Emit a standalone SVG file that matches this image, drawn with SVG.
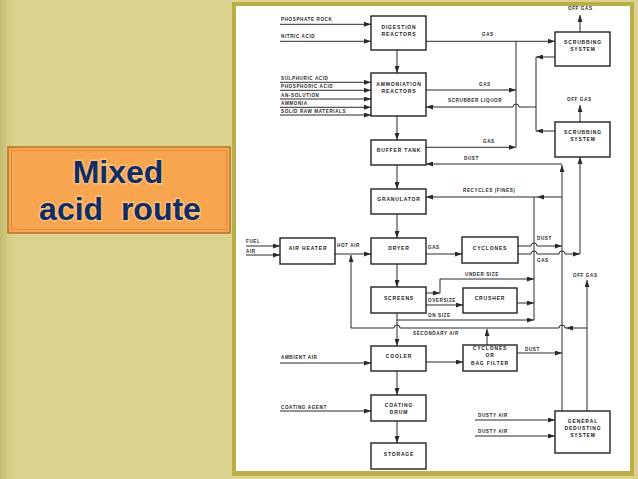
<svg xmlns="http://www.w3.org/2000/svg" width="638" height="479" viewBox="0 0 638 479">
<style>
.bx{fill:#fff;stroke:#222;stroke-width:1.4}
.ln{fill:none;stroke:#2a2a2a;stroke-width:1}
.ar{marker-end:url(#ah)}
.nt{font-family:"Liberation Sans",Arial,sans-serif;font-weight:bold;font-size:5px;letter-spacing:0.85px;fill:#222;text-anchor:middle}
.lb{font-family:"Liberation Sans",Arial,sans-serif;font-weight:bold;font-size:4.6px;letter-spacing:0.6px;fill:#2a2a2a}
.tt{font-family:"Liberation Sans",Arial,sans-serif;font-weight:bold;font-size:32px;fill:#0f2c66;text-anchor:middle;stroke:#ffd79a;stroke-width:3;stroke-opacity:0.55;paint-order:stroke}
</style>
<defs>
<marker id="ah" markerUnits="userSpaceOnUse" markerWidth="7" markerHeight="5" refX="7" refY="2.5" orient="auto">
<path d="M0,0 L7,2.5 L0,5 z" fill="#2a2a2a"/>
</marker>
<linearGradient id="lstrip" x1="0" y1="0" x2="1" y2="0">
<stop offset="0" stop-color="#c4ba6c"/>
<stop offset="1" stop-color="#dcd48f" stop-opacity="0"/>
</linearGradient>
</defs>

<g id="background">
<rect x="0" y="0" width="638" height="479" fill="#dbd38e"/>
<rect x="0" y="0" width="18" height="479" fill="url(#lstrip)"/>
<rect x="232" y="2" width="402" height="474" fill="#b9ae48"/>
<rect x="236" y="6" width="394" height="465" fill="#ffffff"/>
</g>

<g id="title">
<rect x="8" y="147" width="222" height="86" fill="#f8a54f" stroke="#b8772c" stroke-width="1.6"/>
<rect x="11.5" y="150.5" width="215" height="79" fill="none" stroke="#e08d3e" stroke-width="1"/>
<text class="tt" x="118" y="183">Mixed</text>
<text class="tt" x="120" y="220" xml:space="preserve">acid  route</text>
</g>

<g id="connectors">
<!-- left inputs -->
<path class="ln ar" d="M280,24.3 H371"/>
<path class="ln ar" d="M280,41.3 H371"/>
<path class="ln ar" d="M280,82.3 H371"/>
<path class="ln ar" d="M280,90.3 H371"/>
<path class="ln ar" d="M280,99 H371"/>
<path class="ln ar" d="M280,107.3 H371"/>
<path class="ln ar" d="M280,115 H371"/>
<path class="ln ar" d="M246,246 H280"/>
<path class="ln ar" d="M246,255 H280"/>
<path class="ln ar" d="M280,363 H371"/>
<path class="ln ar" d="M280,411 H371"/>
<path class="ln ar" d="M475,420 H555"/>
<path class="ln ar" d="M475,436 H555"/>
<!-- main column -->
<path class="ln ar" d="M397,50 V73"/>
<path class="ln ar" d="M397,116 V140"/>
<path class="ln ar" d="M397,165 V189"/>
<path class="ln ar" d="M397,214 V238"/>
<path class="ln ar" d="M397,264 V287"/>
<path class="ln ar" d="M397,313 V346"/>
<path class="ln ar" d="M397,371 V395"/>
<path class="ln ar" d="M397,421 V443"/>
<!-- gas / scrubbing -->
<path class="ln ar" d="M426,41.3 H555"/>
<path class="ln" d="M516,41.3 V147.3"/>
<path class="ln ar" d="M426,90 H516"/>
<path class="ln ar" d="M426,147.3 H516"/>
<path class="ln ar" d="M536,107 H519 A3,3 0 0 0 513,107 H426"/>
<path class="ln" d="M536,57 V131"/>
<path class="ln ar" d="M555,57 H536"/>
<path class="ln ar" d="M555,131 H536"/>
<path class="ln ar" d="M580,32 V15"/>
<path class="ln ar" d="M580,122 V105"/>
<!-- dust / recycle -->
<path class="ln ar" d="M562,411 V165"/>
<path class="ln ar" d="M562,164 H426"/>
<path class="ln ar" d="M562,197 H537"/>
<path class="ln ar" d="M537,197 H426"/>
<path class="ln" d="M534,320 V197"/>
<!-- dryer / cyclones -->
<path class="ln ar" d="M335,254 H371"/>
<path class="ln ar" d="M426,254 H462"/>
<path class="ln ar" d="M518,246 H531 A3,3 0 0 1 537,246 H562"/>
<path class="ln ar" d="M518,254 H531 A3,3 0 0 1 537,254 H559 A3,3 0 0 1 565,254 H580"/>
<path class="ln ar" d="M580,254 V157"/>
<!-- screens / crusher -->
<path class="ln ar" d="M426,293 H440"/>
<path class="ln ar" d="M440,293 V279 H534"/>
<path class="ln ar" d="M426,305 H463"/>
<path class="ln ar" d="M517,303 H534"/>
<path class="ln ar" d="M397,320 H534"/>
<!-- secondary air / off gas -->
<path class="ln ar" d="M587,411 V280"/>
<path class="ln ar" d="M587,328 H566"/>
<path class="ln ar" d="M566,328 H565 A3,3 0 0 0 559,328 H400 A3,3 0 0 0 394,328 H351 V255"/>
<path class="ln ar" d="M487,345 V329"/>
<!-- cooler / bag filter -->
<path class="ln ar" d="M426,362 H463"/>
<path class="ln ar" d="M517,353 H562"/>
</g>

<g id="labels">
<text class="lb" x="281" y="21">PHOSPHATE ROCK</text>
<text class="lb" x="281" y="37.7">NITRIC ACID</text>
<text class="lb" x="281" y="79.7">SULPHURIC ACID</text>
<text class="lb" x="281" y="88.3">PHOSPHORIC ACID</text>
<text class="lb" x="281" y="96.7">AN-SOLUTION</text>
<text class="lb" x="281" y="105">AMMONIA</text>
<text class="lb" x="281" y="113">SOLID RAW MATERIALS</text>
<text class="lb" x="482" y="36.3">GAS</text>
<text class="lb" x="479" y="86">GAS</text>
<text class="lb" x="448" y="102">SCRUBBER LIQUOR</text>
<text class="lb" x="568" y="9.5">OFF GAS</text>
<text class="lb" x="567" y="100.7">OFF GAS</text>
<text class="lb" x="483" y="143.3">GAS</text>
<text class="lb" x="464" y="160">DUST</text>
<text class="lb" x="463" y="191.7">RECYCLES (FINES)</text>
<text class="lb" x="246" y="243.3">FUEL</text>
<text class="lb" x="246" y="252.8">AIR</text>
<text class="lb" x="337" y="247.3">HOT AIR</text>
<text class="lb" x="428" y="249.3">GAS</text>
<text class="lb" x="537" y="240">DUST</text>
<text class="lb" x="537" y="261.7">GAS</text>
<text class="lb" x="465" y="276">UNDER SIZE</text>
<text class="lb" x="428" y="302.3">OVERSIZE</text>
<text class="lb" x="428" y="316.7">ON SIZE</text>
<text class="lb" x="413" y="335">SECONDARY AIR</text>
<text class="lb" x="573" y="276.7">OFF GAS</text>
<text class="lb" x="525" y="350.7">DUST</text>
<text class="lb" x="281" y="359">AMBIENT AIR</text>
<text class="lb" x="281" y="408.7">COATING AGENT</text>
<text class="lb" x="478" y="416.7">DUSTY AIR</text>
<text class="lb" x="478" y="433.3">DUSTY AIR</text>
</g>

<g id="digestion"><rect class="bx" x="371" y="16" width="55" height="34"/><text class="nt" x="399" y="29">DIGESTION</text><text class="nt" x="399" y="35.5">REACTORS</text></g>
<g id="ammoniation"><rect class="bx" x="371" y="73" width="55" height="43"/><text class="nt" x="399" y="86">AMMONIATION</text><text class="nt" x="399" y="93">REACTORS</text></g>
<g id="buffer-tank"><rect class="bx" x="371" y="140" width="55" height="25"/><text class="nt" x="399" y="152">BUFFER TANK</text></g>
<g id="granulator"><rect class="bx" x="371" y="189" width="55" height="25"/><text class="nt" x="399" y="201">GRANULATOR</text></g>
<g id="dryer"><rect class="bx" x="371" y="238" width="55" height="26"/><text class="nt" x="399" y="250">DRYER</text></g>
<g id="screens"><rect class="bx" x="371" y="287" width="55" height="26"/><text class="nt" x="399" y="300">SCREENS</text></g>
<g id="cooler"><rect class="bx" x="371" y="346" width="55" height="25"/><text class="nt" x="399" y="358">COOLER</text></g>
<g id="coating-drum"><rect class="bx" x="371" y="395" width="55" height="26"/><text class="nt" x="399" y="407">COATING</text><text class="nt" x="399" y="414">DRUM</text></g>
<g id="storage"><rect class="bx" x="371" y="443" width="55" height="26"/><text class="nt" x="399" y="456">STORAGE</text></g>
<g id="air-heater"><rect class="bx" x="280" y="238" width="55" height="26"/><text class="nt" x="308" y="250">AIR HEATER</text></g>
<g id="cyclones"><rect class="bx" x="462" y="237" width="56" height="26"/><text class="nt" x="490" y="250">CYCLONES</text></g>
<g id="crusher"><rect class="bx" x="463" y="288" width="54" height="25"/><text class="nt" x="490" y="300">CRUSHER</text></g>
<g id="bag-filter"><rect class="bx" x="463" y="345" width="54" height="26"/><text class="nt" x="490" y="350">CYCLONES</text><text class="nt" x="490" y="357">OR</text><text class="nt" x="490" y="365">BAG FILTER</text></g>
<g id="scrubbing-1"><rect class="bx" x="555" y="32" width="55" height="34"/><text class="nt" x="583" y="44">SCRUBBING</text><text class="nt" x="583" y="51">SYSTEM</text></g>
<g id="scrubbing-2"><rect class="bx" x="555" y="122" width="55" height="35"/><text class="nt" x="583" y="134">SCRUBBING</text><text class="nt" x="583" y="141">SYSTEM</text></g>
<g id="general-dedusting"><rect class="bx" x="555" y="411" width="55" height="42"/><text class="nt" x="583" y="423">GENERAL</text><text class="nt" x="583" y="430">DEDUSTING</text><text class="nt" x="583" y="437">SYSTEM</text></g>
</svg>
